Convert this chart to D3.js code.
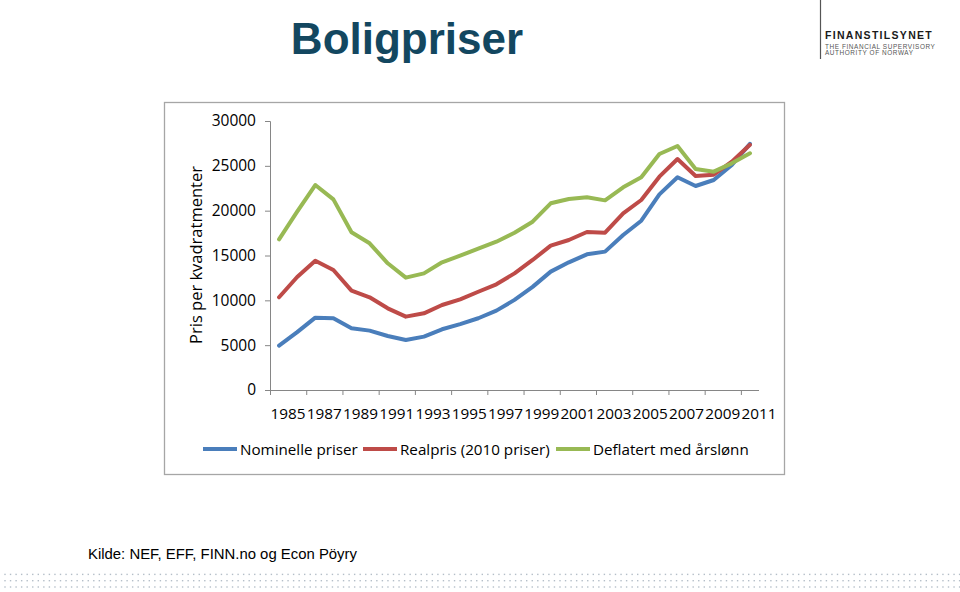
<!DOCTYPE html>
<html><head><meta charset="utf-8">
<script src="https://cdn.jsdelivr.net/npm/d3@7"></script>
<style>body{margin:0;background:#fff}svg{display:block}</style>
</head><body>
<svg id="c" width="960" height="592"></svg>
<script>
const years = d3.range(1985, 2012);
const nominelle = [4950, 6450, 8070, 8000, 6880, 6620, 6020, 5580, 5950, 6770, 7350, 8000, 8850, 10050, 11500, 13200, 14240, 15130, 15430, 17290, 18880, 21820, 23720, 22750, 23420, 25090, 27450];
const realpris = [10340, 12600, 14420, 13380, 11080, 10340, 9110, 8180, 8550, 9480, 10110, 10960, 11790, 13010, 14500, 16100, 16730, 17620, 17540, 19700, 21190, 23790, 25760, 23870, 24010, 25460, 27350];
const deflatert = [16800, 19900, 22860, 21260, 17590, 16360, 14130, 12530, 13010, 14240, 14980, 15760, 16540, 17540, 18770, 20820, 21300, 21490, 21150, 22600, 23720, 26320, 27210, 24650, 24350, 25280, 26400];
const seriesNames = ["Nominelle priser", "Realpris (2010 priser)", "Deflatert med årslønn"];
const seriesColors = ["#4a7ebb", "#be4b48", "#98b954"];
const yTicks = [0, 5000, 10000, 15000, 20000, 25000, 30000];
const labelYears = years.filter(y => (y - 1985) % 2 === 0);

const svg = d3.select("#c");
const font = "'Open Sans', sans-serif";
const arial = "Arial, 'Liberation Sans', sans-serif";

// title
svg.append("text").attr("x", 407).attr("y", 53.5).attr("text-anchor", "middle")
  .attr("font-family", arial).attr("font-weight", "bold")
  .attr("font-size", 44).attr("fill", "#134760").text("Boligpriser");

// logo
svg.append("line").attr("x1", 820.5).attr("x2", 820.5).attr("y1", 0).attr("y2", 59)
  .attr("stroke", "#555").attr("stroke-width", 1.2);
svg.append("text").attr("x", 825).attr("y", 38.8).attr("font-family", arial)
  .attr("font-weight", "bold").attr("font-size", 10.5).attr("fill", "#1a1a1a").attr("letter-spacing", 1.3).text("FINANSTILSYNET");
svg.append("text").attr("x", 825).attr("y", 48.5).attr("font-family", arial)
  .attr("font-size", 6.4).attr("fill", "#555").attr("letter-spacing", 0.6).text("THE FINANCIAL SUPERVISORY");
svg.append("text").attr("x", 825).attr("y", 54.8).attr("font-family", arial)
  .attr("font-size", 6.4).attr("fill", "#555").attr("letter-spacing", 0.6).text("AUTHORITY OF NORWAY");

// chart frame
svg.append("rect").attr("x", 164.5).attr("y", 102.5).attr("width", 620).attr("height", 372)
  .attr("fill", "#fff").attr("stroke", "#a6a6a6").attr("stroke-width", 1.3);

const x = d3.scaleBand().domain(years).range([270, 759]).padding(0);
const y = d3.scaleLinear().domain([0, 30000]).range([390, 121]);
const bw = x.bandwidth();

// y axis
const yAxis = svg.append("g").attr("transform", "translate(270,0)")
  .call(d3.axisLeft(y).tickValues(yTicks).tickSize(5).tickPadding(9).tickFormat(d3.format("d")));
yAxis.select(".domain").attr("stroke", "#868686").attr("d", "M-5,390.5H0.5V121.5H-5");
yAxis.selectAll(".tick line").attr("stroke", "#868686");
yAxis.selectAll("text").attr("font-family", font).attr("font-size", 15.5).attr("fill", "#000");

// x axis
svg.append("line").attr("x1", 270).attr("x2", 759).attr("y1", 390.5).attr("y2", 390.5).attr("stroke", "#868686");
svg.append("g").selectAll("line").data(labelYears).join("line")
  .attr("x1", d => x(d) + 0.5).attr("x2", d => x(d) + 0.5)
  .attr("y1", 390).attr("y2", 395).attr("stroke", "#868686");
svg.append("g").selectAll("text").data(labelYears).join("text")
  .attr("x", d => x(d) + bw).attr("y", 418.5).attr("text-anchor", "middle")
  .attr("font-family", font).attr("font-size", 15.3).attr("fill", "#000").text(d => d);

// y label
svg.append("text").attr("transform", "translate(202,255) rotate(-90)").attr("text-anchor", "middle")
  .attr("font-family", font).attr("font-size", 16.5).attr("fill", "#000").text("Pris per kvadratmenter");

// lines
const seriesData = [nominelle, realpris, deflatert];
const line = d3.line().x((d, i) => x(years[i]) + bw / 2).y(d => y(d));
svg.append("g").selectAll("path").data(seriesData).join("path")
  .attr("d", line).attr("fill", "none")
  .attr("stroke", (d, i) => seriesColors[i]).attr("stroke-width", 4)
  .attr("stroke-linejoin", "round").attr("stroke-linecap", "round");

// legend
const legX = [203, 363, 556];
const lg = svg.append("g").selectAll("g").data(seriesNames).join("g")
  .attr("transform", (d, i) => `translate(${legX[i]},449)`);
lg.append("line").attr("x1", 0).attr("x2", 34).attr("y1", 0).attr("y2", 0)
  .attr("stroke", (d, i) => seriesColors[i]).attr("stroke-width", 4);
lg.append("text").attr("x", 37).attr("y", 5.5).attr("font-family", font).attr("font-size", 15.2)
  .attr("fill", "#000").text(d => d);

// source
svg.append("text").attr("x", 88).attr("y", 559).attr("font-family", arial)
  .attr("font-size", 14.9).attr("fill", "#000").text("Kilde: NEF, EFF, FINN.no og Econ Pöyry");

// dotted footer
const dotRows = [573.7, 580, 586.3];
const dotCols = d3.range(4.3, 960, 5.55);
const dots = [];
dotRows.forEach(r => dotCols.forEach(c => dots.push([c, r])));
svg.append("g").selectAll("rect").data(dots).join("rect")
  .attr("x", d => d[0]).attr("y", d => d[1]).attr("width", 1.4).attr("height", 1.4).attr("fill", "#b4bec8");
</script>
</body></html>
